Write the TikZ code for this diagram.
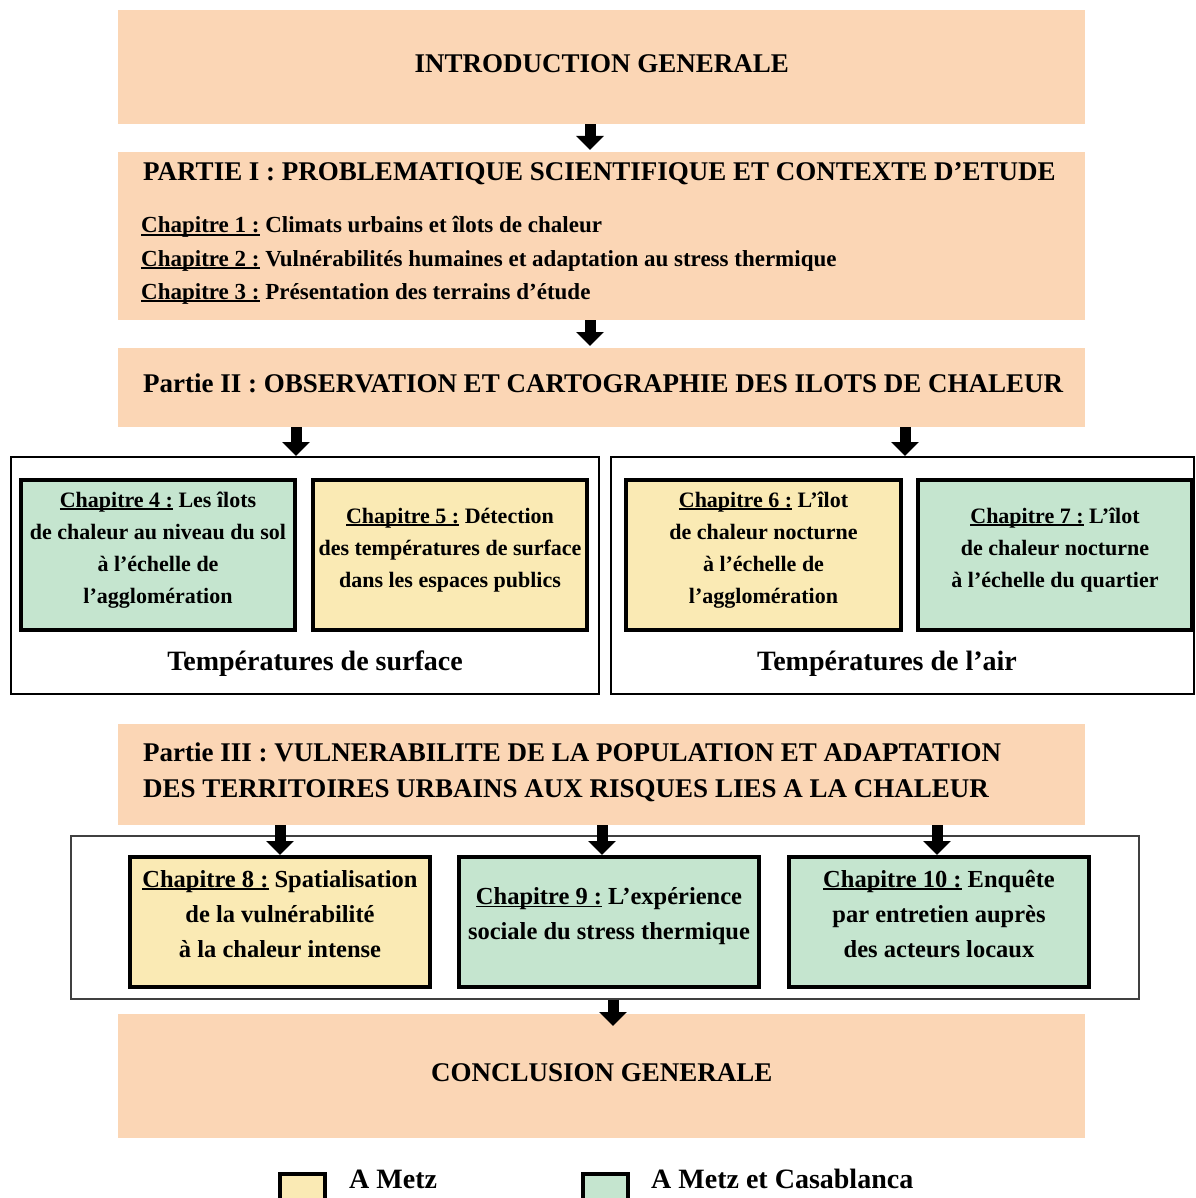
\documentclass[tikz,border=0pt]{standalone}
\usepackage{fontspec}
\setmainfont{Liberation Serif}
\usetikzlibrary{arrows.meta}
\definecolor{peach}{HTML}{FBD6B5}
\definecolor{ylw}{HTML}{FAEAB4}
\definecolor{grn}{HTML}{C5E5CF}
\newcommand\chapu[1]{\setbox0\hbox{#1}\rlap{\rule[-0.11em]{\wd0}{0.055em}}\box0\relax}
\tikzset{
  partbox/.style={fill=peach, draw=none, anchor=north west, inner sep=0pt},
  chapbox/.style={draw=black, line width=4pt, anchor=north west, inner sep=0pt, align=center,
    text depth=15pt, font=\fontsize{22}{32}\selectfont\bfseries},
  chapboxb/.style={chapbox, text depth=17pt, font=\fontsize{24.5}{35}\selectfont\bfseries},
  frametop/.style={draw=black, line width=2pt, anchor=north west, inner sep=0pt},
  framebot/.style={draw=black!75, line width=1.5pt, anchor=north west, inner sep=0pt},
  hd/.style={font=\fontsize{27}{32}\selectfont\bfseries, inner sep=0pt},
  chl/.style={font=\fontsize{23}{33}\selectfont\bfseries, inner sep=0pt, anchor=base west},
  temp/.style={font=\fontsize{28}{32}\selectfont\bfseries, inner sep=0pt},
  barrow/.style={line width=11pt, -{Triangle[width=27pt,length=14pt]}, black},
  legbox/.style={draw=black, line width=4pt, anchor=north west, inner sep=0pt, minimum width=45pt, minimum height=32pt},
}
\begin{document}
\begin{tikzpicture}[x=1pt,y=-1pt]
\useasboundingbox (0,0) rectangle (1195,1198);
\fill[white] (0,0) rectangle (1195,1198);

% x references for arrows
\coordinate (ax1) at (590,0);
\coordinate (ax2) at (296,0);
\coordinate (ax3) at (905,0);
\coordinate (ax4) at (280,0);
\coordinate (ax5) at (602,0);
\coordinate (ax6) at (937,0);
\coordinate (ax7) at (613,0);

% Introduction
\node[partbox, minimum width=967pt, minimum height=114pt] (intro) at (118,10) {};
\node[hd] (introt) at ([yshift=4pt]intro.center) {INTRODUCTION GENERALE};

% Partie I
\node[partbox, minimum width=967pt, minimum height=168pt] (p1) at (118,152) {};
\node[hd, anchor=base west] (p1t) at (143,181) {PARTIE I : PROBLEMATIQUE SCIENTIFIQUE ET CONTEXTE D’ETUDE};
\node[chl] (c1) at (141,233) {\chapu{Chapitre 1 :} Climats urbains et îlots de chaleur};
\node[chl] (c2) at (141,266) {\chapu{Chapitre 2 :} Vulnérabilités humaines et adaptation au stress thermique};
\node[chl] (c3) at (141,299) {\chapu{Chapitre 3 :} Présentation des terrains d’étude};

% Partie II
\node[partbox, minimum width=967pt, minimum height=79pt] (p2) at (118,348) {};
\node[hd, anchor=base west] (p2t) at (143,392) {Partie II : OBSERVATION ET CARTOGRAPHIE DES ILOTS DE CHALEUR};

% frames
\node[frametop, minimum width=588pt, minimum height=237pt] (frL) at (10,456) {};
\node[frametop, minimum width=583pt, minimum height=237pt] (frR) at (610,456) {};

\node[chapbox, fill=grn, minimum width=274pt, minimum height=150pt] (ch4) at (19,478)
  {\chapu{Chapitre 4 :} Les îlots\\de chaleur au niveau du sol\\à l’échelle de\\l’agglomération};
\node[chapbox, fill=ylw, minimum width=274pt, minimum height=150pt] (ch5) at (311,478)
  {\chapu{Chapitre 5 :} Détection\\des températures de surface\\dans les espaces publics};
\node[chapbox, fill=ylw, minimum width=275pt, minimum height=150pt] (ch6) at (624,478)
  {\chapu{Chapitre 6 :} L’îlot\\de chaleur nocturne\\à l’échelle de\\l’agglomération};
\node[chapbox, fill=grn, minimum width=274pt, minimum height=150pt] (ch7) at (916,478)
  {\chapu{Chapitre 7 :} L’îlot\\de chaleur nocturne\\à l’échelle du quartier};

\node[temp] (tsurf) at (315,664) {Températures de surface};
\node[temp] (tair) at (887,664) {Températures de l’air};

% Partie III
\node[partbox, minimum width=967pt, minimum height=101pt] (p3) at (118,724) {};
\node[hd, anchor=base west] (p3a) at (143,761) {Partie III : VULNERABILITE DE LA POPULATION ET ADAPTATION};
\node[hd, anchor=base west] (p3b) at (143,797) {DES TERRITOIRES URBAINS AUX RISQUES LIES A LA CHALEUR};

\node[framebot, minimum width=1068pt, minimum height=163pt] (frB) at (70,835) {};

\node[chapboxb, fill=ylw, minimum width=300pt, minimum height=130pt] (ch8) at (128,855)
  {\chapu{Chapitre 8 :} Spatialisation\\de la vulnérabilité\\à la chaleur intense};
\node[chapboxb, fill=grn, minimum width=300pt, minimum height=130pt] (ch9) at (457,855)
  {\chapu{Chapitre 9 :} L’expérience\\sociale du stress thermique};
\node[chapboxb, fill=grn, minimum width=300pt, minimum height=130pt] (ch10) at (787,855)
  {\chapu{Chapitre 10 :} Enquête\\par entretien auprès\\des acteurs locaux};

% Conclusion
\node[partbox, minimum width=967pt, minimum height=124pt] (concl) at (118,1014) {};
\node[hd] (conclt) at ([yshift=4pt]concl.center) {CONCLUSION GENERALE};
\coordinate (cend) at (613,1026);

% arrows
\draw[barrow] (intro.south -| ax1) -- ([yshift=2pt]p1.north -| ax1);
\draw[barrow] (p1.south -| ax1) -- ([yshift=2pt]p2.north -| ax1);
\draw[barrow] (p2.south -| ax2) -- (frL.north -| ax2);
\draw[barrow] (p2.south -| ax3) -- (frR.north -| ax3);
\draw[barrow] (p3.south -| ax4) -- (ch8.north -| ax4);
\draw[barrow] (p3.south -| ax5) -- (ch9.north -| ax5);
\draw[barrow] (p3.south -| ax6) -- (ch10.north -| ax6);
\draw[barrow] (frB.south -| ax7) -- (cend);

% legend
\node[legbox, fill=ylw] (lgy) at (278,1172) {};
\node[temp, anchor=base west] (lgyt) at (349,1188) {A Metz};
\node[legbox, fill=grn] (lgg) at (581,1172) {};
\node[temp, anchor=base west] (lggt) at (651,1188) {A Metz et Casablanca};
\end{tikzpicture}
\end{document}
